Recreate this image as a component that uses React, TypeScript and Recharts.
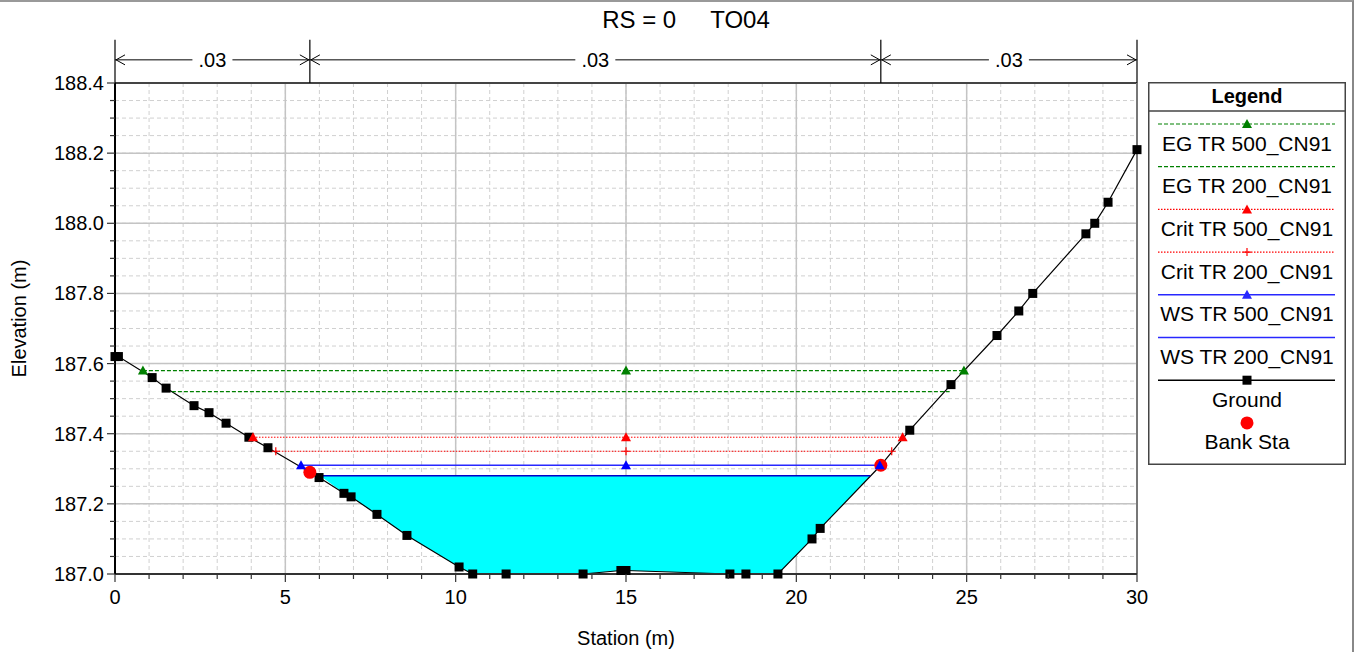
import React from "react";
import {
  ComposedChart,
  Line,
  Area,
  XAxis,
  YAxis,
  CartesianGrid,
  ReferenceLine,
  Legend,
  Label,
} from "recharts";

const FONT = "'Liberation Sans', Arial, sans-serif";

// ground survey points (station m, elevation m)
const groundStation = [
  0, 0.1, 1.09, 1.5, 2.32, 2.76, 3.26, 3.93, 4.49, 5.72, 5.99, 6.72, 6.93, 7.69,
  8.57, 10.1, 10.5, 11.48, 13.74, 14.85, 15.0, 18.05, 18.52, 19.46, 20.46, 20.7,
  22.48, 23.33, 24.54, 25.89, 26.53, 26.94, 28.5, 28.76, 29.15, 30.0,
];
const groundElevation = [
  187.62, 187.62, 187.56, 187.53, 187.48, 187.46, 187.43, 187.39, 187.36, 187.29,
  187.275, 187.23, 187.22, 187.17, 187.11, 187.02, 187.0, 187.0, 187.0, 187.01,
  187.01, 187.0, 187.0, 187.0, 187.1, 187.13, 187.31, 187.41, 187.54, 187.68,
  187.75, 187.8, 187.97, 188.0, 188.06, 188.21,
];

const bankStation = [5.72, 22.48];
const bankElevation = [187.29, 187.31];

// water surface profiles: stations where markers sit, and the level
const egTr500Station = [0.82, 15, 24.92];
const egTr500Elev = 187.58;
const egTr200Station = [1.67, 24.5];
const egTr200Elev = 187.52;
const critTr500Station = [4.05, 15, 23.12];
const critTr500Elev = 187.39;
const critTr200Station = [4.72, 15, 22.8];
const critTr200Elev = 187.35;
const wsTr500Station = [5.46, 15, 22.45];
const wsTr500Elev = 187.31;
const wsTr200Station = [6.02, 22.17];
const wsTr200Elev = 187.28;

// Manning's n regions
const nBreaks = [0, 5.72, 22.48, 30];
const nLabels = [".03", ".03", ".03"];
const N_ROW_ELEV = 188.466;
const N_TICK_TOP = 188.523;

const xTicksMajor = [0, 5, 10, 15, 20, 25, 30];
const xTicksMinor = [
  0, 1, 2, 3, 4, 5, 6, 7, 8, 9, 10, 11, 12, 13, 14, 15, 16, 17, 18, 19, 20, 21,
  22, 23, 24, 25, 26, 27, 28, 29, 30,
];
const yTicksMajor = [187.0, 187.2, 187.4, 187.6, 187.8, 188.0, 188.2, 188.4];
const yTicksMinor = [
  187.0, 187.05, 187.1, 187.15, 187.2, 187.25, 187.3, 187.35, 187.4, 187.45,
  187.5, 187.55, 187.6, 187.65, 187.7, 187.75, 187.8, 187.85, 187.9, 187.95,
  188.0, 188.05, 188.1, 188.15, 188.2, 188.25, 188.3, 188.35, 188.4,
];

const ground = groundStation.map((s, i) => ({ station: s, elev: groundElevation[i] }));
const level = (st: number[], e: number) => st.map((s) => ({ station: s, elev: e }));
const banks = bankStation.map((s, i) => ({ station: s, elev: bankElevation[i] }));

const [wsLeft, wsRight] = wsTr200Station;
const waterFill = [
  { station: wsLeft, band: [wsTr200Elev, wsTr200Elev] },
  ...ground
    .filter((p) => p.station > wsLeft && p.station < wsRight)
    .map((p) => ({ station: p.station, band: [p.elev, wsTr200Elev] })),
  { station: wsRight, band: [wsTr200Elev, wsTr200Elev] },
];

const GREEN = "#008000";
const RED = "#ff0000";
const BLUE = "#2828ff";

const isIn = (arr: number[], v: number) => arr.some((m) => Math.abs(m - v) < 1e-6);

const triangle = (color: string) => (p: any) => {
  const { cx, cy, index } = p;
  if (cx == null || cy == null) return <g key={`t-${index}`} />;
  return (
    <path
      key={`t-${index}`}
      d={`M${cx},${cy - 5} L${cx + 5},${cy + 4} L${cx - 5},${cy + 4} Z`}
      fill={color}
    />
  );
};

const plus = (color: string) => (p: any) => {
  const { cx, cy, index } = p;
  if (cx == null || cy == null) return <g key={`p-${index}`} />;
  return (
    <path
      key={`p-${index}`}
      d={`M${cx - 4},${cy} H${cx + 4} M${cx},${cy - 4} V${cy + 4}`}
      stroke={color}
      strokeWidth={1.2}
    />
  );
};

const square = (p: any) => {
  const { cx, cy, index } = p;
  if (cx == null || cy == null) return <g key={`s-${index}`} />;
  return <rect key={`s-${index}`} x={cx - 4.5} y={cy - 4.5} width={9} height={9} fill="#000" />;
};

const bankDot = (p: any) => {
  const { cx, cy, index } = p;
  if (cx == null || cy == null) return <g key={`b-${index}`} />;
  return <circle key={`b-${index}`} cx={cx} cy={cy} r={6.5} fill={RED} />;
};

const XTick = (props: any) => {
  const { x, y, payload } = props;
  const major = isIn(xTicksMajor, payload.value);
  return (
    <g>
      <line x1={x} x2={x} y1={y} y2={y + (major ? 8 : 5)} stroke="#333" strokeWidth={1.2} />
      {major && (
        <text x={x} y={y + 30} textAnchor="middle" fontSize={20} fontFamily={FONT} fill="#000">
          {payload.value}
        </text>
      )}
    </g>
  );
};

const YTick = (props: any) => {
  const { x, y, payload } = props;
  const major = isIn(yTicksMajor, payload.value);
  return (
    <g>
      <line x1={x} x2={x - (major ? 8 : 5)} y1={y} y2={y} stroke="#333" strokeWidth={1.2} />
      {major && (
        <text
          x={x - 11}
          y={y}
          textAnchor="end"
          dominantBaseline="central"
          fontSize={20}
          fontFamily={FONT}
          fill="#000"
        >
          {Number(payload.value).toFixed(1)}
        </text>
      )}
    </g>
  );
};

const NSpan = (label: string) => (props: any) => {
  const { x1, y1, x2 } = props;
  const mid = (x1 + x2) / 2;
  const gap = 20;
  return (
    <g>
      <line x1={x1} y1={y1} x2={mid - gap} y2={y1} stroke="#000" strokeWidth={1} />
      <line x1={mid + gap} y1={y1} x2={x2} y2={y1} stroke="#000" strokeWidth={1} />
      <polyline
        points={`${x1 + 10},${y1 - 5} ${x1 + 1},${y1} ${x1 + 10},${y1 + 5}`}
        fill="none"
        stroke="#000"
        strokeWidth={1}
      />
      <polyline
        points={`${x2 - 10},${y1 - 5} ${x2 - 1},${y1} ${x2 - 10},${y1 + 5}`}
        fill="none"
        stroke="#000"
        strokeWidth={1}
      />
      <text
        x={mid}
        y={y1}
        textAnchor="middle"
        dominantBaseline="central"
        fontSize={20}
        fontFamily={FONT}
        fill="#000"
      >
        {label}
      </text>
    </g>
  );
};

type LegendItem = {
  name: string;
  color: string;
  dash?: string;
  marker?: "tri" | "plus" | "square" | "circle";
  noLine?: boolean;
};

const legendItems: LegendItem[] = [
  { name: "EG TR 500_CN91", color: GREEN, dash: "4 2", marker: "tri" },
  { name: "EG TR 200_CN91", color: GREEN, dash: "4 2" },
  { name: "Crit TR 500_CN91", color: RED, dash: "1.5 1.5", marker: "tri" },
  { name: "Crit TR 200_CN91", color: RED, dash: "1.5 1.5", marker: "plus" },
  { name: "WS TR 500_CN91", color: BLUE, marker: "tri" },
  { name: "WS TR 200_CN91", color: BLUE },
  { name: "Ground", color: "#000", marker: "square" },
  { name: "Bank Sta", color: RED, marker: "circle", noLine: true },
];

const LegendBox = () => {
  const w = 198;
  const h = 383;
  const cx = 99;
  return (
    <svg width={w} height={h} style={{ display: "block" }}>
      <rect x={0.75} y={0.75} width={w - 1.5} height={h - 1.5} fill="#fff" stroke="#444" strokeWidth={1.5} />
      <text
        x={cx}
        y={14}
        textAnchor="middle"
        dominantBaseline="central"
        fontSize={20}
        fontWeight="bold"
        fontFamily={FONT}
      >
        Legend
      </text>
      <line x1={0} x2={w} y1={29} y2={29} stroke="#444" strokeWidth={1.5} />
      {legendItems.map((it, i) => {
        const ly = 42 + i * 42.7;
        const ty = ly + 19;
        return (
          <g key={it.name}>
            {!it.noLine && (
              <line
                x1={10}
                x2={187}
                y1={ly}
                y2={ly}
                stroke={it.color}
                strokeWidth={it.dash ? 1.2 : 1.5}
                strokeDasharray={it.dash}
              />
            )}
            {it.marker === "tri" && (
              <path d={`M${cx},${ly - 5} L${cx + 5},${ly + 4} L${cx - 5},${ly + 4} Z`} fill={it.color} />
            )}
            {it.marker === "plus" && (
              <path
                d={`M${cx - 4},${ly} H${cx + 4} M${cx},${ly - 4} V${ly + 4}`}
                stroke={it.color}
                strokeWidth={1.2}
              />
            )}
            {it.marker === "square" && <rect x={cx - 4.5} y={ly - 4.5} width={9} height={9} fill="#000" />}
            {it.marker === "circle" && <circle cx={cx} cy={ly} r={6.5} fill={it.color} />}
            <text
              x={cx}
              y={ty}
              textAnchor="middle"
              dominantBaseline="central"
              fontSize={21}
              fontFamily={FONT}
              fill="#000"
            >
              {it.name}
            </text>
          </g>
        );
      })}
    </svg>
  );
};

export default function App() {
  return (
    <div
      style={{
        position: "absolute",
        left: 0,
        top: 0,
        width: 1356,
        height: 652,
        background: "#fff",
        fontFamily: FONT,
      }}
    >
      <div
        style={{
          position: "absolute",
          left: 0,
          top: 0,
          width: 1352,
          height: 652,
          borderTop: "2px solid #999",
          borderRight: "2px solid #888",
          pointerEvents: "none",
        }}
      />
      <div
        style={{
          position: "absolute",
          left: 486,
          top: 8,
          width: 400,
          textAlign: "center",
          fontSize: 24,
          lineHeight: "24px",
          whiteSpace: "pre",
          color: "#000",
        }}
      >
        <span>RS = 0</span>
        <span style={{ marginLeft: 34 }}>TO04</span>
      </div>
      <ComposedChart
        width={1356}
        height={652}
        margin={{ top: 83, right: 219, bottom: 48, left: 55 }}
        style={{ position: "absolute", left: 0, top: 0 }}
      >
        <CartesianGrid
          stroke="#d0d0d0"
          strokeDasharray="4 3"
          strokeWidth={1}
          horizontalValues={yTicksMinor}
          verticalValues={xTicksMinor}
        />
        <CartesianGrid
          stroke="#c4c4c4"
          strokeWidth={1.5}
          horizontalValues={yTicksMajor}
          verticalValues={xTicksMajor}
        />
        <XAxis
          dataKey="station"
          type="number"
          domain={[0, 30]}
          ticks={xTicksMinor}
          interval={0}
          tickSize={0}
          tickMargin={0}
          tick={<XTick />}
          tickLine={false}
          axisLine={{ stroke: "#333", strokeWidth: 2 }}
          height={30}
        >
          <Label
            content={(p: any) => {
              const vb = p.viewBox || { x: 115, y: 574, width: 1022 };
              return (
                <text
                  x={vb.x + vb.width / 2}
                  y={vb.y + 71}
                  textAnchor="middle"
                  fontSize={20}
                  fontFamily={FONT}
                  fill="#000"
                >
                  Station (m)
                </text>
              );
            }}
          />
        </XAxis>
        <YAxis
          dataKey="elev"
          type="number"
          domain={[187, 188.4]}
          ticks={yTicksMinor}
          interval={0}
          tickSize={0}
          tickMargin={0}
          tick={<YTick />}
          tickLine={false}
          axisLine={{ stroke: "#000", strokeWidth: 2 }}
          width={60}
        >
          <Label
            content={(p: any) => {
              const vb = p.viewBox || { x: 55, y: 83, height: 491 };
              const tx = vb.x - 29;
              const ty = vb.y + vb.height / 2 - 10;
              return (
                <text
                  x={tx}
                  y={ty}
                  transform={`rotate(-90 ${tx} ${ty})`}
                  textAnchor="middle"
                  fontSize={20}
                  fontFamily={FONT}
                  fill="#000"
                >
                  Elevation (m)
                </text>
              );
            }}
          />
        </YAxis>

        <Area
          data={waterFill}
          dataKey="band"
          type="linear"
          fill="#00ffff"
          fillOpacity={1}
          stroke="none"
          dot={false}
          activeDot={false}
          isAnimationActive={false}
        />

        <Line
          data={ground}
          dataKey="elev"
          type="linear"
          stroke="#000"
          strokeWidth={1.2}
          dot={square}
          activeDot={false}
          isAnimationActive={false}
        />
        <Line
          data={banks}
          dataKey="elev"
          stroke="none"
          dot={bankDot}
          activeDot={false}
          isAnimationActive={false}
        />

        <Line
          data={level(egTr500Station, egTr500Elev)}
          dataKey="elev"
          stroke={GREEN}
          strokeWidth={1.2}
          strokeDasharray="4 2"
          dot={triangle(GREEN)}
          activeDot={false}
          isAnimationActive={false}
        />
        <Line
          data={level(egTr200Station, egTr200Elev)}
          dataKey="elev"
          stroke={GREEN}
          strokeWidth={1.2}
          strokeDasharray="4 2"
          dot={false}
          activeDot={false}
          isAnimationActive={false}
        />
        <Line
          data={level(critTr500Station, critTr500Elev)}
          dataKey="elev"
          stroke={RED}
          strokeWidth={1}
          strokeDasharray="1.5 1.5"
          dot={triangle(RED)}
          activeDot={false}
          isAnimationActive={false}
        />
        <Line
          data={level(critTr200Station, critTr200Elev)}
          dataKey="elev"
          stroke={RED}
          strokeWidth={1}
          strokeDasharray="1.5 1.5"
          dot={plus(RED)}
          activeDot={false}
          isAnimationActive={false}
        />
        <Line
          data={level(wsTr500Station, wsTr500Elev)}
          dataKey="elev"
          stroke={BLUE}
          strokeWidth={1.5}
          dot={triangle("#0000ff")}
          activeDot={false}
          isAnimationActive={false}
        />
        <Line
          data={level(wsTr200Station, wsTr200Elev)}
          dataKey="elev"
          stroke="#0000c8"
          strokeWidth={1.5}
          dot={false}
          activeDot={false}
          isAnimationActive={false}
        />

        {/* plot frame top and right */}
        <ReferenceLine y={188.4} stroke="#444" strokeWidth={2} ifOverflow="visible" />
        <ReferenceLine x={30} stroke="#777" strokeWidth={2} ifOverflow="visible" />

        {/* Manning's n bands above the plot */}
        {nBreaks.map((s) => (
          <ReferenceLine
            key={`nb-${s}`}
            segment={[
              { x: s, y: 188.4 },
              { x: s, y: N_TICK_TOP },
            ]}
            stroke="#000"
            strokeWidth={1.2}
            ifOverflow="visible"
          />
        ))}
        {nLabels.map((lab, i) => (
          <ReferenceLine
            key={`ns-${i}`}
            segment={[
              { x: nBreaks[i], y: N_ROW_ELEV },
              { x: nBreaks[i + 1], y: N_ROW_ELEV },
            ]}
            ifOverflow="visible"
            shape={NSpan(lab)}
          />
        ))}

        <Legend
          layout="vertical"
          align="center"
          verticalAlign="middle"
          content={() => <LegendBox />}
          wrapperStyle={{ position: "absolute", left: 1148, top: 82, width: 198, height: 383 }}
        />
      </ComposedChart>
    </div>
  );
}
